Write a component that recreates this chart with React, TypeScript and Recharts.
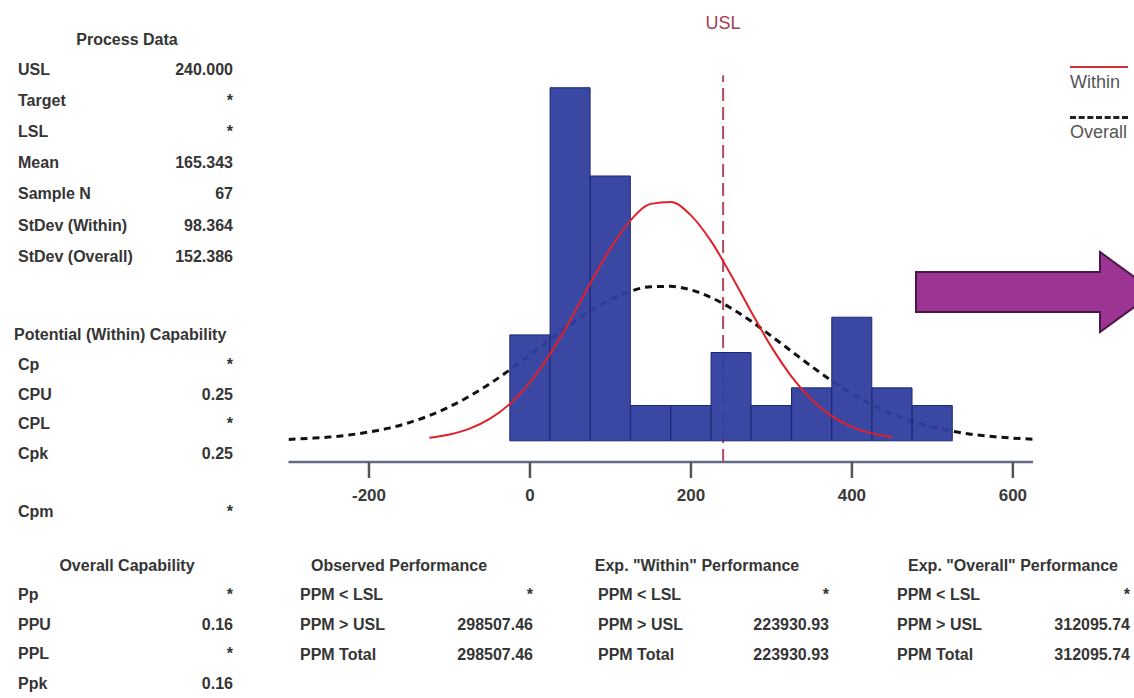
import React from "react";
import { ComposedChart, Bar, Line, XAxis, YAxis, ReferenceLine } from "recharts";

// histogram bins (centre, count)
const BIN_CENTERS = [0, 50, 100, 150, 200, 250, 300, 350, 400, 450, 500];
const BIN_COUNTS = [6, 20, 15, 2, 2, 5, 2, 3, 7, 3, 2];

// "Within" fitted curve
const WITHIN_X = [-125, -100, -75, -50, -25, 0, 25, 50, 75, 100, 125, 150, 175, 200, 225, 250, 275, 300, 325, 350, 375, 400, 425, 450];
const WITHIN_Y = [0.17, 0.36, 0.69, 1.24, 2.09, 3.31, 4.91, 6.83, 8.92, 10.9, 12.49, 13.42, 13.53, 12.77, 11.31, 9.38, 7.3, 5.32, 3.64, 2.33, 1.4, 0.79, 0.42, 0.21];

// "Overall" fitted curve
const OVERALL_X = [-300, -275, -250, -225, -200, -175, -150, -125, -100, -75, -50, -25, 0, 25, 50, 75, 100, 125, 150, 175, 200, 225, 250, 275, 300, 325, 350, 375, 400, 425, 450, 475, 500, 525, 550, 575, 600, 625];
const OVERALL_Y = [0.08, 0.14, 0.21, 0.33, 0.5, 0.72, 1.03, 1.43, 1.93, 2.53, 3.23, 4.02, 4.87, 5.74, 6.59, 7.36, 8.0, 8.47, 8.73, 8.75, 8.55, 8.12, 7.51, 6.77, 5.93, 5.07, 4.21, 3.4, 2.68, 2.05, 1.53, 1.11, 0.79, 0.54, 0.36, 0.24, 0.15, 0.09];

const X_TICKS = [-200, 0, 200, 400, 600];
const USL = 240;

const PROCESS_LABELS = ["USL", "Target", "LSL", "Mean", "Sample N", "StDev (Within)", "StDev (Overall)"];
const PROCESS_VALUES = ["240.000", "*", "*", "165.343", "67", "98.364", "152.386"];
const WITHIN_CAP_LABELS = ["Cp", "CPU", "CPL", "Cpk"];
const WITHIN_CAP_VALUES = ["*", "0.25", "*", "0.25"];
const CPM_VALUE = "*";
const OVERALL_CAP_LABELS = ["Pp", "PPU", "PPL", "Ppk"];
const OVERALL_CAP_VALUES = ["*", "0.16", "*", "0.16"];
const PPM_LABELS = ["PPM < LSL", "PPM > USL", "PPM Total"];
const OBSERVED_PPM = ["*", "298507.46", "298507.46"];
const WITHIN_PPM = ["*", "223930.93", "223930.93"];
const OVERALL_PPM = ["*", "312095.74", "312095.74"];

const FONT = '"Liberation Sans", Arial, sans-serif';

const binData = BIN_CENTERS.map((x, i) => ({ x, count: BIN_COUNTS[i] }));
const withinData = WITHIN_X.map((x, i) => ({ x, y: WITHIN_Y[i] }));
const overallData = OVERALL_X.map((x, i) => ({ x, y: OVERALL_Y[i] }));

const Txt = ({ x, y, align = "left", children, style = {} }: any) => {
  const base: React.CSSProperties = {
    position: "absolute",
    top: y - 10,
    height: 20,
    lineHeight: "20px",
    whiteSpace: "nowrap",
    fontSize: 16,
    fontWeight: "bold",
    color: "#353535",
    ...style,
  };
  if (align === "right") return <div style={{ ...base, left: x - 300, width: 300, textAlign: "right" }}>{children}</div>;
  if (align === "center") return <div style={{ ...base, left: x - 200, width: 400, textAlign: "center" }}>{children}</div>;
  return <div style={{ ...base, left: x }}>{children}</div>;
};

const PerfTable = ({ title, titleX, labelX, valueX, values }: any) => (
  <>
    <Txt x={titleX} y={566} align="center">{title}</Txt>
    {PPM_LABELS.map((l, i) => (
      <React.Fragment key={l}>
        <Txt x={labelX} y={595 + i * 30}>{l}</Txt>
        <Txt x={valueX} y={595 + i * 30} align="right">{values[i]}</Txt>
      </React.Fragment>
    ))}
  </>
);

export default function App() {
  return (
    <div style={{ position: "absolute", left: 0, top: 0, width: 1134, height: 698, overflow: "hidden", background: "#fff", fontFamily: FONT }}>
      <ComposedChart
        width={1134}
        height={698}
        data={binData}
        margin={{ top: 48, right: 101, bottom: 196, left: 288.5 }}
        barCategoryGap={0}
        barGap={0}
        style={{ position: "absolute", left: 0, top: 0, fontFamily: FONT }}
      >
        <XAxis xAxisId="bin" dataKey="x" type="number" domain={[-300, 625]} hide allowDataOverflow />
        <XAxis
          dataKey="x"
          type="number"
          domain={[-300, 625]}
          ticks={X_TICKS}
          interval={0}
          height={40}
          allowDataOverflow
          axisLine={{ stroke: "#666a84", strokeWidth: 2.5 }}
          tickLine={{ stroke: "#555", strokeWidth: 2.5 }}
          tickSize={16}
          tickMargin={11}
          tick={{ fontSize: 17, fill: "#3a3a3a", fontWeight: "bold" }}
        />
        <YAxis type="number" domain={[-1.2, 22.25]} hide allowDataOverflow />
        {/* USL and the overall curve sit behind the bars */}
        <ReferenceLine
          segment={[{ x: USL, y: -1.2 }, { x: USL, y: 20.7 }]}
          stroke="#b5475e"
          strokeWidth={2}
          strokeDasharray="13 6"
          ifOverflow="visible"
          zIndex={100}
        />
        <Line data={overallData} dataKey="y" type="monotone" stroke="#111" strokeWidth={3} strokeDasharray="7 5" dot={false} isAnimationActive={false} zIndex={200} />
        <Bar xAxisId="bin" dataKey="count" fill="#2f3e9e" fillOpacity={0.95} stroke="#1c2676" strokeWidth={1} isAnimationActive={false} zIndex={300} />
        <Line data={withinData} dataKey="y" type="monotone" stroke="#e0202a" strokeWidth={2} dot={false} isAnimationActive={false} zIndex={400} />
      </ComposedChart>

      <Txt x={723} y={23} align="center" style={{ fontWeight: "normal", fontSize: 18, color: "#a83a55" }}>USL</Txt>

      {/* legend */}
      <div style={{ position: "absolute", left: 1070, top: 66, width: 58, height: 0, borderTop: "2px solid #d0303a" }} />
      <Txt x={1070} y={82} style={{ fontWeight: "normal", fontSize: 18, color: "#555" }}>Within</Txt>
      <div style={{ position: "absolute", left: 1070, top: 116, width: 58, height: 0, borderTop: "3px dashed #222" }} />
      <Txt x={1070} y={132} style={{ fontWeight: "normal", fontSize: 18, color: "#555" }}>Overall</Txt>

      {/* arrow */}
      <svg width={1134} height={698} style={{ position: "absolute", left: 0, top: 0, pointerEvents: "none" }}>
        <polygon points="916,272 1100,272 1100,252 1155,292 1100,332 1100,312 916,312" fill="#9c3494" stroke="#4a1848" strokeWidth={2} />
      </svg>

      {/* process data */}
      <Txt x={127} y={40} align="center">Process Data</Txt>
      {PROCESS_LABELS.map((l, i) => (
        <React.Fragment key={l}>
          <Txt x={18} y={70 + i * 31.1}>{l}</Txt>
          <Txt x={233} y={70 + i * 31.1} align="right">{PROCESS_VALUES[i]}</Txt>
        </React.Fragment>
      ))}

      <Txt x={14} y={335}>Potential (Within) Capability</Txt>
      {WITHIN_CAP_LABELS.map((l, i) => (
        <React.Fragment key={l}>
          <Txt x={18} y={365 + i * 29.5}>{l}</Txt>
          <Txt x={233} y={365 + i * 29.5} align="right">{WITHIN_CAP_VALUES[i]}</Txt>
        </React.Fragment>
      ))}
      <Txt x={18} y={512}>Cpm</Txt>
      <Txt x={233} y={512} align="right">{CPM_VALUE}</Txt>

      <Txt x={127} y={566} align="center">Overall Capability</Txt>
      {OVERALL_CAP_LABELS.map((l, i) => (
        <React.Fragment key={l}>
          <Txt x={18} y={595 + i * 29.5}>{l}</Txt>
          <Txt x={233} y={595 + i * 29.5} align="right">{OVERALL_CAP_VALUES[i]}</Txt>
        </React.Fragment>
      ))}

      <PerfTable title="Observed Performance" titleX={399} labelX={300} valueX={533} values={OBSERVED_PPM} />
      <PerfTable title={'Exp. "Within" Performance'} titleX={697} labelX={598} valueX={829} values={WITHIN_PPM} />
      <PerfTable title={'Exp. "Overall" Performance'} titleX={1013} labelX={897} valueX={1130} values={OVERALL_PPM} />
    </div>
  );
}
